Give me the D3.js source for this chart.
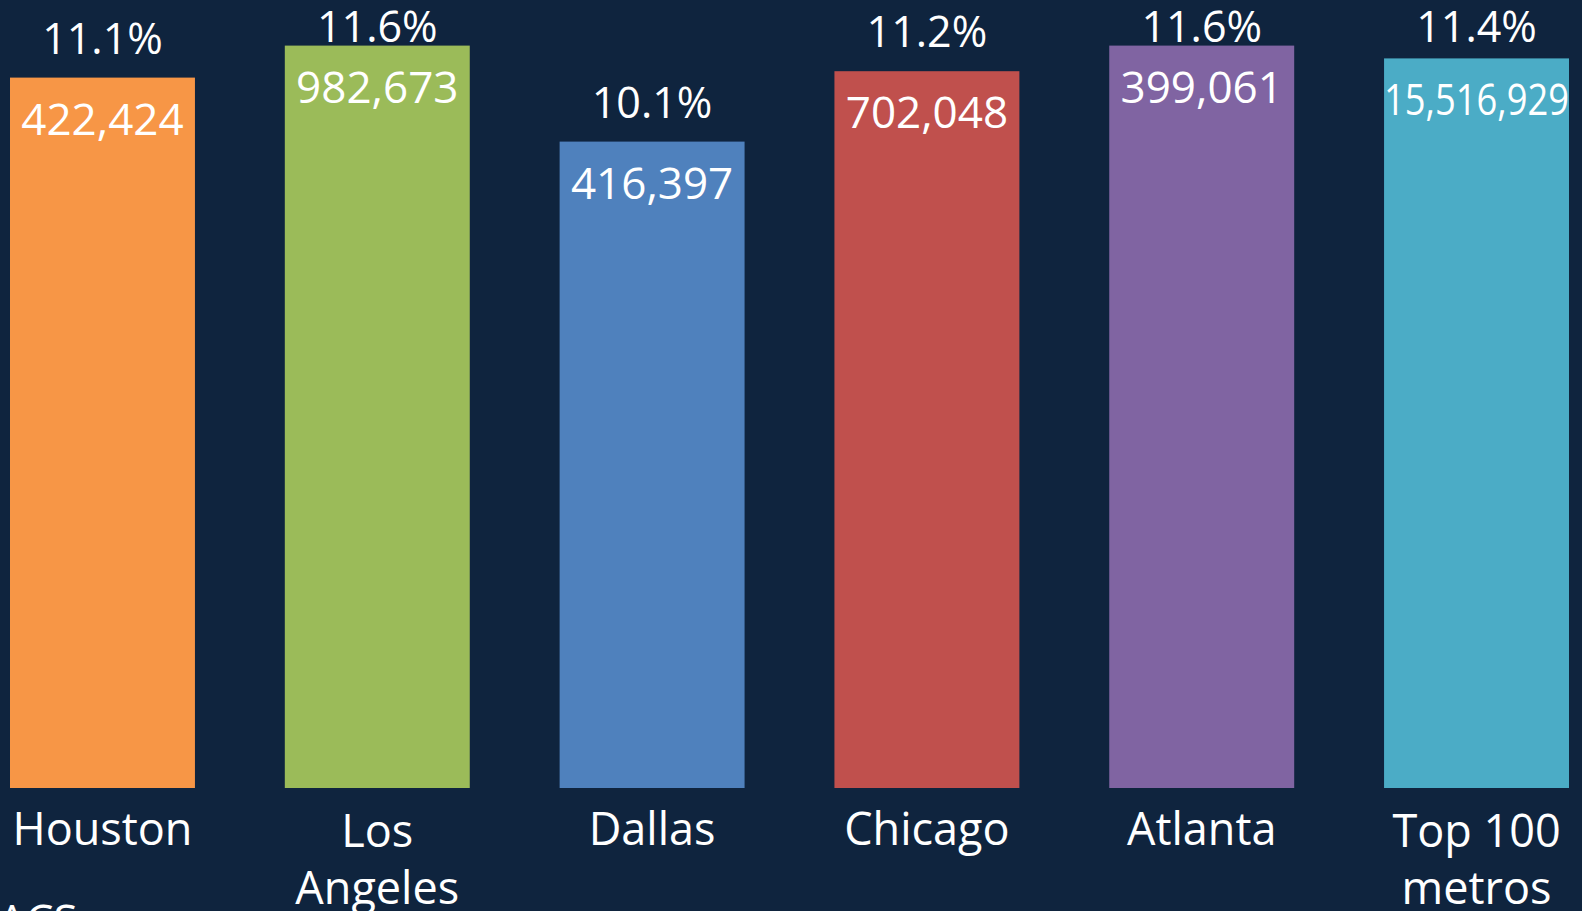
<!DOCTYPE html>
<html>
<head>
<meta charset="utf-8">
<script src="https://cdn.jsdelivr.net/npm/d3@7"></script>
<style>
html,body{margin:0;padding:0;background:#0F243E;overflow:hidden;}
svg{display:block;}
text{font-family:"Open Sans","Noto Sans",sans-serif;fill:#ffffff;}
</style>
</head>
<body>
<svg id="chart" width="1582" height="911"></svg>
<script>
const categories = ["Houston", "Los Angeles", "Dallas", "Chicago", "Atlanta", "Top 100 metros"];
const categoryLines = [["Houston"], ["Los", "Angeles"], ["Dallas"], ["Chicago"], ["Atlanta"], ["Top 100", "metros"]];
const shareValues = [11.1, 11.6, 10.1, 11.2, 11.6, 11.4];
const countValues = [422424, 982673, 416397, 702048, 399061, 15516929];
const barColors = ["#F79646", "#9BBB59", "#4F81BD", "#C0504D", "#8064A2", "#4BACC6"];

const W = 1582, H = 911;
const svg = d3.select("#chart");
svg.append("rect").attr("width", W).attr("height", H).attr("fill", "#0F243E");

const x = d3.scaleBand().domain(categories).range([10, 1569]).paddingInner(0.327).paddingOuter(0);
const y = d3.scaleLinear().domain([0, 12]).range([788, 20]);

const data = categories.map((c, i) => ({c, lines: categoryLines[i], share: shareValues[i], count: countValues[i], color: barColors[i]}));

const g = svg.append("g");

g.selectAll("rect.bar").data(data).join("rect")
  .attr("class", "bar")
  .attr("x", d => x(d.c))
  .attr("y", d => y(d.share))
  .attr("width", x.bandwidth())
  .attr("height", d => y(0) - y(d.share))
  .attr("fill", d => d.color);

// percentage labels above bars
g.selectAll("text.pct").data(data).join("text")
  .attr("class", "pct")
  .attr("x", d => x(d.c) + x.bandwidth() / 2)
  .attr("y", d => Math.max(y(d.share) - 24, 42))
  .attr("text-anchor", "middle")
  .attr("font-size", 43)
  .text(d => d.share.toFixed(1) + "%");

// count labels inside bars
const fmt = d3.format(",");
g.selectAll("text.cnt").data(data).join("text")
  .attr("class", "cnt")
  .attr("x", d => x(d.c) + x.bandwidth() / 2)
  .attr("y", d => y(d.share) + 57)
  .attr("text-anchor", "middle")
  .attr("font-size", 44)
  .text(d => fmt(d.count))
  .each(function() {
    const len = this.getComputedTextLength();
    if (len > x.bandwidth()) {
      d3.select(this).attr("textLength", x.bandwidth()).attr("lengthAdjust", "spacingAndGlyphs");
    }
  });

// category labels
const cat = g.selectAll("text.cat").data(data).join("text")
  .attr("class", "cat")
  .attr("text-anchor", "middle")
  .attr("font-size", 45);
cat.selectAll("tspan").data(d => d.lines.map(l => ({l, cx: x(d.c) + x.bandwidth() / 2, two: d.lines.length > 1}))).join("tspan")
  .attr("x", t => t.cx)
  .attr("y", (t, i) => (t.two ? 847 : 845) + i * 57)
  .text(t => t.l);

// partially visible source note at the bottom edge
svg.append("text")
  .attr("x", -2)
  .attr("y", 936)
  .attr("font-size", 44)
  .text("ACS");
</script>
</body>
</html>
